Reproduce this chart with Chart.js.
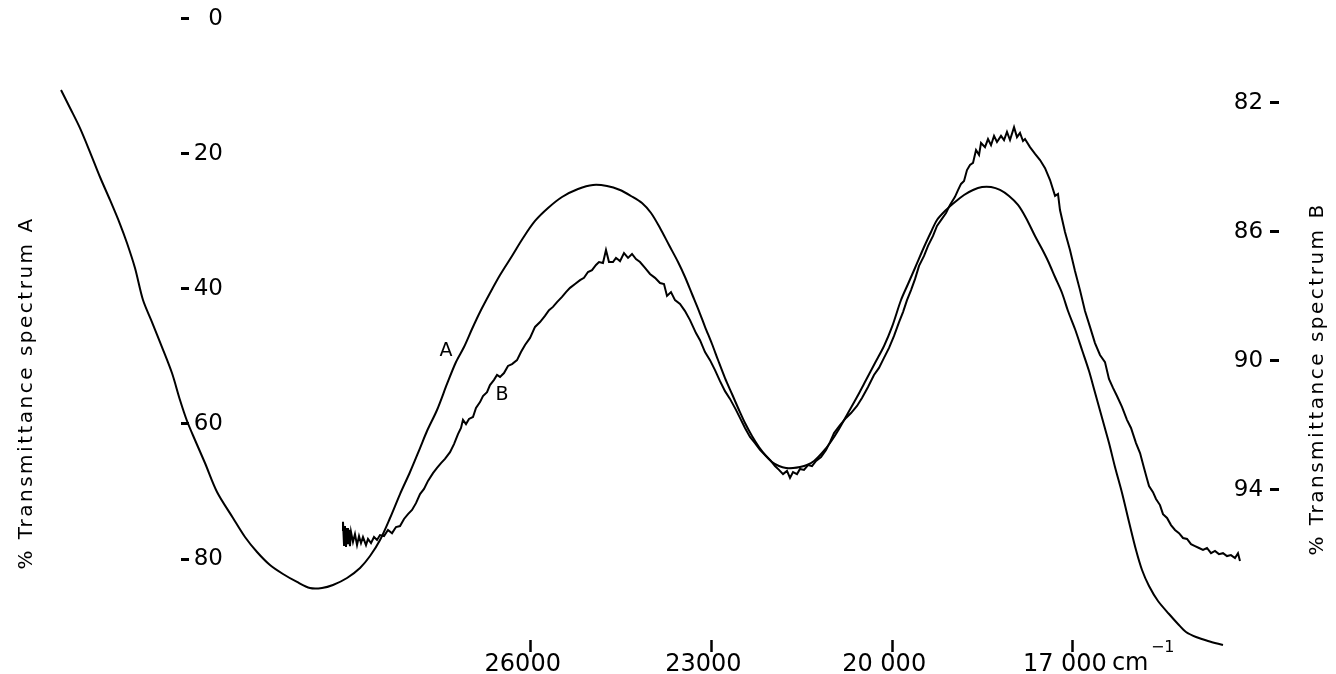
<!DOCTYPE html>
<html>
<head>
<meta charset="utf-8">
<title>Transmittance spectra A and B</title>
<script src="https://cdn.jsdelivr.net/npm/chart.js@4.4.1/dist/chart.umd.min.js"></script>
<style>
  html, body { margin: 0; padding: 0; background: #fff; }
  #wrap { width: 1336px; height: 674px; }
</style>
</head>
<body>
<div id="wrap"><canvas id="spec" width="1336" height="674"></canvas></div>
<script>
// spectrum A : wavenumber (cm-1) / % transmittance, left scale
const waveA = [33798, 33648, 33483, 33317, 33151, 32985, 32819, 32703, 32570, 32437,
  32288, 32122, 31956, 31823, 31706, 31574, 31408, 31208, 30943, 30744, 30544,
  30329, 30113, 29880, 29665, 29465, 29283, 29050, 28834, 28668, 28502,
  28336, 28170, 28004, 27838, 27722, 27556, 27390, 27241, 27108, 26975,
  26842, 26676, 26510, 26311, 26128, 25929, 25713, 25481, 25215, 24966,
  24734, 24518, 24335, 24153, 24003, 23854, 23705, 23555, 23439, 23323,
  23207, 23107, 22991, 22891, 22775, 22659, 22543, 22443, 22327, 22211,
  22094, 21995, 21879, 21762, 21646, 21530, 21414, 21297, 21165, 21032,
  20882, 20733, 20584, 20434, 20285, 20135, 20003, 19853, 19737, 19621,
  19471, 19355, 19256, 19106, 18957, 18807, 18658, 18508, 18359, 18210,
  18060, 17911, 17778, 17629, 17512, 17413, 17297, 17180, 17081, 16965,
  16848, 16732, 16649, 16566, 16483, 16400, 16301, 16184, 16068, 15952,
  15852, 15736, 15587, 15404, 15255, 15122, 14956, 14757, 14508];
const transA = [10.57, 13.23, 16.21, 19.75, 23.45, 26.85, 30.41, 33.22, 36.92, 41.66,
  44.92, 48.62, 52.47, 56.46, 59.57, 62.38, 65.79, 70.08, 73.93, 76.74, 78.96,
  80.89, 82.22, 83.40, 84.29, 84.29, 83.85, 82.81, 81.33, 79.56, 77.19,
  73.93, 70.38, 67.12, 63.57, 61.05, 57.94, 54.09, 50.84, 48.62, 45.95,
  43.43, 40.62, 37.96, 35.14, 32.48, 29.96, 28.04, 26.41, 25.23, 24.63,
  24.78, 25.37, 26.26, 27.30, 28.78, 31.00, 33.52, 36.03, 38.25, 40.77,
  43.29, 45.62, 48.17, 50.54, 53.21, 55.57, 57.94, 59.87, 61.79, 63.42,
  64.75, 65.64, 66.23, 66.53, 66.53, 66.38, 66.08, 65.49, 64.31, 62.83,
  60.75, 58.39, 56.02, 53.50, 50.98, 48.46, 45.65, 41.66, 39.29, 36.92,
  33.81, 31.59, 29.81, 28.33, 27.15, 26.11, 25.37, 24.93, 24.93, 25.37,
  26.26, 27.59, 29.52, 32.18, 34.11, 35.88, 38.25, 40.62, 43.29, 45.95,
  49.06, 52.17, 54.83, 57.50, 60.16, 62.83, 66.38, 70.23, 74.52, 78.67,
  81.63, 84.00, 86.22, 88.14, 89.62, 90.81, 91.55, 92.14, 92.73];

// spectrum B : wavenumber (cm-1) / % transmittance, right scale
const waveB = [29133, 29117, 29100, 29084, 29067, 29050, 29034, 29017, 29001, 28984,
  28951, 28918, 28884, 28851, 28818, 28785, 28735, 28702, 28652, 28602,
  28552, 28503, 28436, 28370, 28303, 28237, 28170, 28104, 28038, 27971,
  27905, 27838, 27772, 27706, 27623, 27556, 27490, 27424, 27340, 27274,
  27208, 27158, 27125, 27075, 27025, 26959, 26909, 26842, 26793, 26726,
  26677, 26610, 26560, 26510, 26444, 26378, 26311, 26228, 26162, 26095,
  26012, 25929, 25846, 25764, 25697, 25631, 25564, 25481, 25415, 25348,
  25265, 25182, 25116, 25050, 24983, 24917, 24867, 24801, 24751, 24701,
  24635, 24585, 24518, 24452, 24385, 24319, 24253, 24186, 24103, 24020,
  23937, 23854, 23788, 23738, 23672, 23605, 23522, 23439, 23356, 23257,
  23190, 23107, 23024, 22941, 22858, 22775, 22692, 22593, 22510, 22443,
  22360, 22277, 22194, 22111, 22028, 21945, 21879, 21812, 21746, 21696,
  21646, 21580, 21530, 21464, 21397, 21331, 21264, 21181, 21098, 21032,
  20965, 20866, 20766, 20683, 20584, 20501, 20401, 20302, 20219, 20136,
  20052, 19969, 19886, 19820, 19754, 19687, 19621, 19554, 19471, 19405,
  19322, 19256, 19189, 19106, 19040, 18957, 18907, 18857, 18807, 18758,
  18708, 18658, 18608, 18558, 18525, 18459, 18409, 18359, 18309, 18260,
  18193, 18143, 18094, 18044, 17977, 17928, 17878, 17828, 17795, 17712,
  17628, 17545, 17462, 17379, 17296, 17247, 17214, 17131, 17048, 16965,
  16882, 16799, 16716, 16633, 16550, 16467, 16401, 16334, 16268, 16185,
  16102, 16035, 15952, 15885, 15819, 15769, 15736, 15670, 15620, 15554,
  15504, 15437, 15371, 15305, 15238, 15172, 15105, 15039, 14973, 14906,
  14840, 14774, 14707, 14641, 14575, 14508, 14442, 14376, 14309, 14259,
  14226];
const transB = [95.24, 94.99, 95.71, 95.12, 95.77, 95.18, 95.68, 95.24, 95.74, 95.30,
  95.61, 95.37, 95.71, 95.43, 95.65, 95.46, 95.71, 95.52, 95.65, 95.46,
  95.55, 95.40, 95.43, 95.24, 95.34, 95.15, 95.12, 94.90, 94.75, 94.62,
  94.41, 94.13, 93.97, 93.72, 93.48, 93.32, 93.17, 93.04, 92.83, 92.58,
  92.27, 92.08, 91.83, 91.96, 91.80, 91.74, 91.46, 91.28, 91.09, 90.97,
  90.75, 90.59, 90.44, 90.50, 90.38, 90.16, 90.10, 89.98, 89.73, 89.51,
  89.29, 88.95, 88.80, 88.61, 88.43, 88.33, 88.18, 88.02, 87.87, 87.74,
  87.62, 87.50, 87.43, 87.25, 87.19, 87.03, 86.94, 86.97, 86.57, 86.94,
  86.94, 86.81, 86.91, 86.66, 86.81, 86.69, 86.85, 86.94, 87.12, 87.31,
  87.43, 87.59, 87.62, 87.99, 87.87, 88.12, 88.24, 88.46, 88.74, 89.14,
  89.36, 89.73, 89.98, 90.29, 90.63, 90.94, 91.18, 91.52, 91.83, 92.08,
  92.36, 92.55, 92.76, 92.92, 93.07, 93.26, 93.38, 93.51, 93.41, 93.63,
  93.45, 93.51, 93.35, 93.38, 93.23, 93.26, 93.10, 92.98, 92.76, 92.52,
  92.24, 91.99, 91.77, 91.62, 91.40, 91.15, 90.81, 90.44, 90.22, 89.91,
  89.60, 89.23, 88.80, 88.49, 88.12, 87.81, 87.47, 87.06, 86.75, 86.44,
  86.13, 85.82, 85.64, 85.42, 85.17, 84.92, 84.71, 84.52, 84.43, 84.09,
  83.93, 83.87, 83.47, 83.62, 83.25, 83.38, 83.13, 83.32, 83.03, 83.22,
  83.03, 83.16, 82.91, 83.16, 82.76, 83.07, 82.94, 83.19, 83.13, 83.38,
  83.59, 83.78, 84.03, 84.40, 84.89, 84.83, 85.33, 86.01, 86.57, 87.22,
  87.81, 88.46, 88.95, 89.45, 89.82, 90.04, 90.56, 90.84, 91.09, 91.43,
  91.83, 92.08, 92.55, 92.86, 93.32, 93.66, 93.88, 94.07, 94.28, 94.47,
  94.75, 94.87, 95.09, 95.24, 95.34, 95.49, 95.52, 95.68, 95.74, 95.80,
  95.86, 95.80, 95.96, 95.89, 95.99, 95.96, 96.05, 96.02, 96.11, 95.96,
  96.20];

// axes
const xTicks = [26000, 23000, 20000, 17000];
const xTickLabels = ['26000', '23000', '20 000', '17 000'];
const ticksA = [0, 20, 40, 60, 80];
const ticksB = [82, 86, 90, 94];

// where the curve letters sit (wavenumber, transmittance)
const markA = [27407, 49.2];
const markB = [26477, 91.06];

const ink = '#000';
const face = '"DejaVu Sans", "Open Sans", sans-serif';

const rangeA = { min: -0.68, max: 94.95 };
const rangeB = { min: 79.255, max: 99.27 };
const xAxisAt = 91.99;   // on the A scale

// each vertical scale comes twice: one copy carries the numbers, the other the dash marks
function yScale(range, ticks, at, labels, tickLength) {
  return {
    type: 'linear',
    reverse: true,
    min: range.min,
    max: range.max,
    position: { x: at },
    afterBuildTicks: s => { s.ticks = ticks.map(v => ({ value: v })); },
    border: { display: false },
    grid: labels
      ? { display: false }
      : { drawOnChartArea: false, tickLength: tickLength, tickWidth: 3, tickColor: ink },
    ticks: labels
      ? { color: ink, font: { family: face, size: 23, lineHeight: 0.5 } }
      : { display: false }
  };
}

// vertical text, reading bottom to top
function upText(ctx, str, cx, cy) {
  ctx.save();
  ctx.translate(cx, cy);
  ctx.rotate(-Math.PI / 2);
  ctx.textAlign = 'center';
  ctx.textBaseline = 'middle';
  ctx.fillText(str, 0, 0);
  ctx.restore();
}

const labelsPlugin = {
  id: 'spectrumLabels',
  afterDraw(chart) {
    const { ctx, scales } = chart;
    const x = scales.x, yA = scales.yA, yB = scales.yB;
    ctx.save();
    ctx.fillStyle = ink;

    // curve letters
    ctx.font = '19px ' + face;
    ctx.textAlign = 'center';
    ctx.textBaseline = 'middle';
    ctx.fillText('A', x.getPixelForValue(markA[0]), yA.getPixelForValue(markA[1]));
    ctx.fillText('B', x.getPixelForValue(markB[0]), yB.getPixelForValue(markB[1]));

    // unit after the last wavenumber label
    const ux = x.getPixelForValue(xTicks[xTicks.length - 1]);
    const uy = yA.getPixelForValue(xAxisAt) + 24;
    ctx.textAlign = 'left';
    ctx.font = '24px ' + face;
    ctx.fillText('cm', ux + 39, uy);
    ctx.font = '16px ' + face;
    ctx.fillText('\u22121', ux + 78, uy - 16);

    // axis titles
    ctx.font = '20px ' + face;
    ctx.letterSpacing = '2.5px';
    upText(ctx, '% Transmittance spectrum A', 27, 393);
    upText(ctx, '% Transmittance spectrum B', 1318, 379);
    ctx.restore();
  }
};

new Chart(document.getElementById('spec'), {
  type: 'line',
  data: {
    datasets: [
      {
        label: 'A',
        data: waveA.map((w, i) => ({ x: w, y: transA[i] })),
        yAxisID: 'yA',
        borderColor: ink,
        borderWidth: 2,
        pointRadius: 0,
        tension: 0.3,
        clip: false
      },
      {
        label: 'B',
        data: waveB.map((w, i) => ({ x: w, y: transB[i] })),
        yAxisID: 'yB',
        borderColor: ink,
        borderWidth: 2,
        pointRadius: 0,
        tension: 0,
        clip: false
      }
    ]
  },
  options: {
    responsive: false,
    animation: false,
    layout: { padding: { left: 0, right: 0, top: 14, bottom: 14 } },
    plugins: {
      legend: { display: false },
      tooltip: { enabled: false }
    },
    scales: {
      x: {
        type: 'linear',
        reverse: true,
        min: 12632,
        max: 34811,
        position: { yA: xAxisAt },
        afterBuildTicks: s => { s.ticks = xTicks.map(v => ({ value: v })); },
        border: { display: false },
        grid: { drawOnChartArea: false, tickLength: 12, tickWidth: 2.5, tickColor: ink },
        ticks: {
          padding: 1,
          labelOffset: -8,
          maxRotation: 0,
          autoSkip: false,
          color: ink,
          font: { family: face, size: 24, lineHeight: 1 },
          callback: (v, i) => xTickLabels[i]
        }
      },
      yA: yScale(rangeA, ticksA, 31109, true),
      yAmark: yScale(rangeA, ticksA, 31673, false, 8),
      yB: yScale(rangeB, ticksB, 13843, true),
      yBmark: yScale(rangeB, ticksB, 13578, false, 9)
    }
  },
  plugins: [labelsPlugin]
});
</script>
</body>
</html>
